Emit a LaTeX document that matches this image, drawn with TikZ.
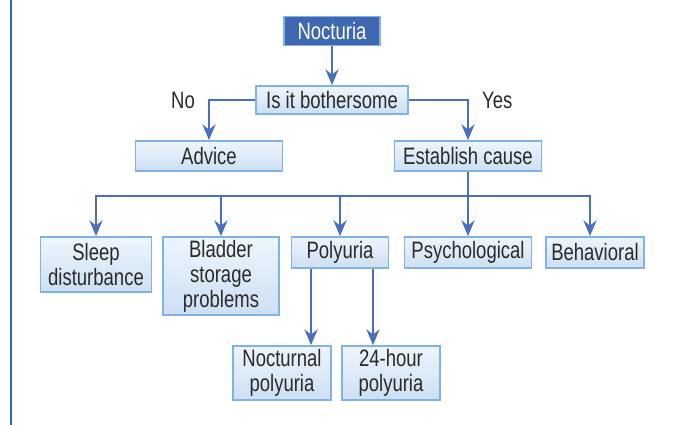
\documentclass[tikz,border=0pt]{standalone}
\usepackage{fontspec}
\setmainfont{Liberation Sans}[FakeStretch=0.78]
\usetikzlibrary{arrows.meta}
\definecolor{linkblue}{HTML}{4A6FBF}
\definecolor{boxedge}{HTML}{80B2E3}
\definecolor{boxtop}{HTML}{EEF5FC}
\definecolor{boxbottom}{HTML}{CCDFF3}
\definecolor{headfill}{HTML}{4068B2}
\definecolor{textgray}{HTML}{2A2A2A}
\definecolor{rulecol}{HTML}{2A62C0}

\begin{document}
\begin{tikzpicture}[x=0.02cm, y=-0.02cm,
		box/.style={rectangle, draw=boxedge, line width=1pt, top color=boxtop, bottom color=boxbottom, align=center, text=textgray, inner sep=0pt, font=\fontsize{13.5}{14.2}\selectfont},
		head/.style={rectangle, draw=boxedge, line width=1pt, fill=headfill, text=white, inner sep=0pt, font=\fontsize{13.5}{14.2}\selectfont},
		label/.style={text=textgray, font=\fontsize{13.5}{14.2}\selectfont},
		link/.style={linkblue, line width=1.4pt},
		arrow/.style={link, -{Stealth[length=9pt, width=7.5pt, inset=3pt]}}
		]
		
		\useasboundingbox (0,0) rectangle (676,425);
		\draw[rulecol, line width=1.1pt] (11,0) -- (11,425);
		
		\node[head, minimum width=1.92cm, minimum height=0.58cm] (noct) at (332,31) {Nocturia};
		\node[box, minimum width=3.04cm, minimum height=0.56cm] (both) at (332,100) {Is it bothersome};
		\node[box, minimum width=2.94cm, minimum height=0.6cm] (advice) at (209,156) {Advice};
		\node[box, minimum width=2.94cm, minimum height=0.6cm] (cause) at (468,156) {Establish cause};
		
		\node[box, minimum width=2.22cm, minimum height=1.1cm] (sleep) at (96,264.5) {Sleep\\disturbance};
		\node[box, minimum width=2.32cm, minimum height=1.56cm] (bladder) at (221,276) {Bladder\\storage\\problems};
		\node[box, minimum width=1.94cm, minimum height=0.62cm] (poly) at (340,252.5) {Polyuria};
		\node[box, minimum width=2.54cm, minimum height=0.62cm] (psych) at (468,252.5) {Psychological};
		\node[box, minimum width=1.96cm, minimum height=0.62cm] (behav) at (595,252.5) {Behavioral};
		
		\node[box, minimum width=1.96cm, minimum height=1.08cm] (noctpoly) at (282,373) {Nocturnal\\polyuria};
		\node[box, minimum width=1.96cm, minimum height=1.08cm] (daypoly) at (391,373) {24-hour\\polyuria};
		
		\draw[arrow] (noct) -- (both);
		\draw[arrow] (both.west) -| node[label, pos=0.5, left=4pt] {No} (advice.north);
		\draw[arrow] (both.east) -| node[label, pos=0.5, right=4pt] {Yes} (cause.north);
		
		\coordinate (split) at (468,196);
		\draw[link] (cause.south) -- (split);
		\draw[arrow] (split) -| (sleep.north);
		\draw[arrow] (split) -| (bladder.north);
		\draw[arrow] (split) -| (poly.north);
		\draw[arrow] (split) -- (psych.north);
		\draw[arrow] (split) -| ([xshift=-0.1cm]behav.north);
		
		\coordinate (pl) at ([xshift=-0.58cm]poly.south);
		\coordinate (pr) at ([xshift=0.66cm]poly.south);
		\draw[arrow] (pl) -- (pl |- noctpoly.north);
		\draw[arrow] (pr) -- (pr |- daypoly.north);
		
	\end{tikzpicture}
\end{document}
